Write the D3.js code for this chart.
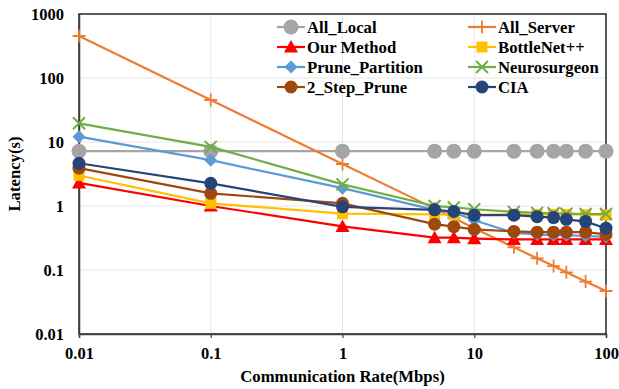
<!DOCTYPE html>
<html>
<head>
<meta charset="utf-8">
<script src="https://cdn.jsdelivr.net/npm/d3@7"></script>
<style>
  html, body { margin: 0; padding: 0; background: #fff; }
  svg { display: block; }
  text { font-family: "Liberation Serif", "Times New Roman", serif; font-weight: bold; fill: #000; }
</style>
</head>
<body>
<svg id="chart" width="619" height="389"></svg>
<script>
// Communication rates (Mbps) along the x axis
const rates = [0.01, 0.1, 1, 5, 7, 10, 20, 30, 40, 50, 70, 100];

// Latency (s) of each scheme at each rate
const allLocal       = [7.2, 7.2, 7.2, 7.2, 7.2, 7.2, 7.2, 7.2, 7.2, 7.2, 7.2, 7.2];
const allServer      = [453, 45.3, 4.53, 0.91, 0.65, 0.45, 0.226, 0.152, 0.115, 0.092, 0.066, 0.047];
const ourMethod      = [2.3, 1.0, 0.48, 0.32, 0.32, 0.31, 0.30, 0.30, 0.30, 0.30, 0.30, 0.30];
const bottleNet      = [3.0, 1.1, 0.76, 0.74, 0.73, 0.73, 0.74, 0.74, 0.74, 0.74, 0.73, 0.72];
const prunePartition = [12.1, 5.2, 1.9, 0.87, 0.79, 0.60, 0.38, 0.36, 0.35, 0.35, 0.34, 0.33];
const neurosurgeon   = [19.6, 8.4, 2.18, 1.0, 0.95, 0.89, 0.81, 0.78, 0.77, 0.76, 0.75, 0.75];
const twoStepPrune   = [3.9, 1.58, 1.1, 0.52, 0.475, 0.43, 0.40, 0.39, 0.39, 0.39, 0.39, 0.36];
const cia            = [4.65, 2.26, 0.97, 0.87, 0.82, 0.72, 0.72, 0.68, 0.66, 0.62, 0.57, 0.45];

const xTicks = [0.01, 0.1, 1, 10, 100];
const xTickLabels = ["0.01", "0.1", "1", "10", "100"];
const yTicks = [0.01, 0.1, 1, 10, 100, 1000];
const yTickLabels = ["0.01", "0.1", "1", "10", "100", "1000"];

const series = [
  { name: "All_Local",       values: allLocal,       color: "#A5A5A5", marker: "circle",   size: 7.5 },
  { name: "All_Server",      values: allServer,      color: "#ED7D31", marker: "plus",     size: 6.5 },
  { name: "Our Method",      values: ourMethod,      color: "#FF0000", marker: "triangle", size: 7 },
  { name: "BottleNet++",     values: bottleNet,      color: "#FFC000", marker: "square",   size: 5.5 },
  { name: "Prune_Partition", values: prunePartition, color: "#5B9BD5", marker: "diamond",  size: 6.5 },
  { name: "Neurosurgeon",    values: neurosurgeon,   color: "#70AD47", marker: "cross",    size: 6 },
  { name: "2_Step_Prune",    values: twoStepPrune,   color: "#9E480E", marker: "circle",   size: 6.5 },
  { name: "CIA",             values: cia,            color: "#264478", marker: "circle",   size: 6.5 }
];

const svg = d3.select("#chart");
const margin = { left: 79, right: 13, top: 14, bottom: 55 };
const W = 619, H = 389;
const x = d3.scaleLog().domain([0.01, 100]).range([margin.left, W - margin.right]);
const y = d3.scaleLog().domain([0.01, 1000]).range([H - margin.bottom, margin.top]);

// gridlines
const grid = svg.append("g");
grid.selectAll("line.gx").data(xTicks.slice(1, -1)).join("line")
  .attr("x1", d => x(d)).attr("x2", d => x(d))
  .attr("y1", y(0.01)).attr("y2", y(1000))
  .attr("stroke", "#e6e6e6").attr("stroke-width", 1);
grid.selectAll("line.gy").data(yTicks.slice(1, -1)).join("line")
  .attr("x1", x(0.01)).attr("x2", x(100))
  .attr("y1", d => y(d)).attr("y2", d => y(d))
  .attr("stroke", "#e6e6e6").attr("stroke-width", 1);

// frame
svg.append("rect")
  .attr("x", x(0.01)).attr("y", y(1000))
  .attr("width", x(100) - x(0.01)).attr("height", y(0.01) - y(1000))
  .attr("fill", "none").attr("stroke", "#000").attr("stroke-width", 1.3);

// axes
const xAxis = d3.axisBottom(x).tickValues(xTicks)
  .tickFormat((d, i) => xTickLabels[i]).tickSize(4).tickPadding(9);
const gx = svg.append("g").attr("transform", `translate(0,${y(0.01)})`).call(xAxis);
gx.select(".domain").attr("stroke", "#404040").attr("stroke-width", 1.5);
gx.selectAll(".tick line").attr("stroke", "#404040").attr("stroke-width", 1.2);
gx.selectAll(".tick text").attr("font-size", 16.5).attr("font-family", "Liberation Serif").attr("font-weight", "bold").attr("fill", "#000");

const yAxis = d3.axisLeft(y).tickValues(yTicks)
  .tickFormat((d, i) => yTickLabels[i]).tickSize(0).tickPadding(15);
const gy = svg.append("g").attr("transform", `translate(${x(0.01)},0)`).call(yAxis);
gy.select(".domain").attr("stroke", "#404040").attr("stroke-width", 1.5);
gy.selectAll(".tick text").attr("font-size", 16.5).attr("font-family", "Liberation Serif").attr("font-weight", "bold").attr("fill", "#000");

// axis titles
svg.append("text")
  .attr("x", (x(0.01) + x(100)) / 2).attr("y", 382)
  .attr("text-anchor", "middle").attr("font-size", 16.7)
  .text("Communication Rate(Mbps)");
svg.append("text")
  .attr("transform", `translate(20,${(y(0.01) + y(1000)) / 2}) rotate(-90)`)
  .attr("text-anchor", "middle").attr("font-size", 16.7)
  .text("Latency(s)");

// marker drawing
function drawMarker(g, type, cx, cy, s, color) {
  if (type === "circle") {
    g.append("circle").attr("cx", cx).attr("cy", cy).attr("r", s).attr("fill", color);
  } else if (type === "square") {
    g.append("rect").attr("x", cx - s).attr("y", cy - s).attr("width", 2 * s).attr("height", 2 * s).attr("fill", color);
  } else if (type === "triangle") {
    g.append("path")
      .attr("d", `M${cx},${cy - s} L${cx + s},${cy + s * 0.8} L${cx - s},${cy + s * 0.8} Z`)
      .attr("fill", color);
  } else if (type === "diamond") {
    g.append("path")
      .attr("d", `M${cx},${cy - s} L${cx + s},${cy} L${cx},${cy + s} L${cx - s},${cy} Z`)
      .attr("fill", color);
  } else if (type === "plus") {
    g.append("path")
      .attr("d", `M${cx - s},${cy} H${cx + s} M${cx},${cy - s} V${cy + s}`)
      .attr("stroke", color).attr("stroke-width", 1.8).attr("fill", "none");
  } else if (type === "cross") {
    g.append("path")
      .attr("d", `M${cx - s},${cy - s} L${cx + s},${cy + s} M${cx - s},${cy + s} L${cx + s},${cy - s}`)
      .attr("stroke", color).attr("stroke-width", 2).attr("fill", "none");
  }
}

// series lines and markers
const line = d3.line().x(d => x(d[0])).y(d => y(d[1]));
series.forEach(s => {
  const g = svg.append("g");
  const pts = rates.map((r, i) => [r, s.values[i]]);
  g.append("path").attr("d", line(pts))
    .attr("fill", "none").attr("stroke", s.color).attr("stroke-width", 2.2);
  pts.forEach(p => drawMarker(g, s.marker, x(p[0]), y(p[1]), s.size, s.color));
});

// legend: two columns, four rows
const legend = svg.append("g");
series.forEach((s, i) => {
  const col = i % 2, row = Math.floor(i / 2);
  const lx = col === 0 ? 277 : 468;
  const ly = 27 + row * 20;
  const g = legend.append("g");
  g.append("line").attr("x1", lx).attr("x2", lx + 28).attr("y1", ly).attr("y2", ly)
    .attr("stroke", s.color).attr("stroke-width", 2.2);
  drawMarker(g, s.marker, lx + 14, ly, s.size, s.color);
  g.append("text").attr("x", lx + 30).attr("y", ly + 6).attr("font-size", 16.7).text(s.name);
});
</script>
</body>
</html>
